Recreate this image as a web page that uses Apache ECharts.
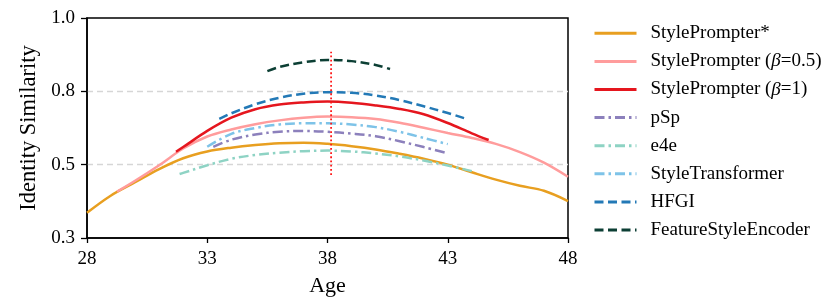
<!DOCTYPE html>
<html>
<head>
<meta charset="utf-8">
<script src="https://cdn.jsdelivr.net/npm/echarts@6/dist/echarts.min.js"></script>
<style>
html,body{margin:0;padding:0;background:#fff;}
#chart{width:831px;height:304px;}
</style>
</head>
<body>
<div id="chart"></div>
<script>
// ---- data ----
const xTicks = [28, 33, 38, 43, 48];
const yTickValues = [0.25, 0.5, 0.75, 1.0];
const yTickLabels = ['0.3', '0.5', '0.8', '1.0'];

const spStarAges = [28,29,30,31,32,33,34,35,36,37,38,39,40,41,42,43,44,45,46,47,48];
const spStarVals = [0.336,0.395,0.440,0.485,0.522,0.545,0.558,0.567,0.573,0.575,0.571,0.563,0.552,0.537,0.520,0.500,0.474,0.449,0.428,0.411,0.376];

const sp05Ages = [29.25,30,31,32,33,34,35,36,37,38,39,40,41,42,43,44,45,46,47,48];
const sp05Vals = [0.408,0.445,0.498,0.555,0.596,0.620,0.638,0.651,0.660,0.664,0.662,0.656,0.643,0.626,0.608,0.591,0.571,0.543,0.507,0.459];

const sp1Ages = [31.7,32,33,34,35,36,37,38,39,40,41,42,43,44,44.7];
const sp1Vals = [0.544,0.560,0.615,0.660,0.689,0.705,0.712,0.715,0.711,0.702,0.690,0.672,0.642,0.607,0.584];

const pspAges = [33.25,34,35,36,37,38,39,40,41,42,43];
const pspVals = [0.561,0.585,0.603,0.612,0.615,0.612,0.606,0.597,0.580,0.560,0.539];

const e4eAges = [31.85,32,33,34,35,36,37,38,39,40,41,42,43,44];
const e4eVals = [0.468,0.472,0.498,0.520,0.533,0.541,0.546,0.548,0.545,0.538,0.528,0.514,0.497,0.478];

const stAges = [33,34,35,36,37,38,39,40,41,42,43];
const stVals = [0.561,0.605,0.625,0.637,0.641,0.641,0.637,0.628,0.612,0.591,0.570];

const hfgiAges = [33.5,34,35,36,37,38,39,40,41,42,43,43.7];
const hfgiVals = [0.656,0.675,0.706,0.728,0.742,0.747,0.745,0.736,0.720,0.699,0.676,0.658];

const fseAges = [35.5,36,37,38,39,40,40.6];
const fseVals = [0.819,0.833,0.849,0.857,0.853,0.840,0.826];

const refAge = 38.15;
const refRange = [0.465, 0.885];

// ---- chart ----
const FONT = '"Liberation Serif", "DejaVu Serif", serif';
function pairs(xs, ys){ return xs.map((x,i)=>[x, ys[i]]); }

const seriesDefs = [
  {name:'StylePrompter*', ages:spStarAges, vals:spStarVals, color:'#E89F20', type:'solid'},
  {name:'StylePrompter (β=0.5)', ages:sp05Ages, vals:sp05Vals, color:'#FF9C9C', type:'solid'},
  {name:'StylePrompter (β=1)', ages:sp1Ages, vals:sp1Vals, color:'#E5161E', type:'solid'},
  {name:'pSp', ages:pspAges, vals:pspVals, color:'#8C80BC', type:[10,4,2.5,4]},
  {name:'e4e', ages:e4eAges, vals:e4eVals, color:'#8ED3C4', type:[10,4,2.5,4]},
  {name:'StyleTransformer', ages:stAges, vals:stVals, color:'#7EC3E8', type:[10,4,2.5,4]},
  {name:'HFGI', ages:hfgiAges, vals:hfgiVals, color:'#2379B6', type:[9,4.5]},
  {name:'FeatureStyleEncoder', ages:fseAges, vals:fseVals, color:'#0C3F34', type:[9,4.5]}
];

const series = seriesDefs.map(d => ({
  name: d.name,
  type: 'line',
  data: pairs(d.ages, d.vals),
  smooth: 0.35,
  symbol: 'none',
  color: d.color,
  lineStyle: {color: d.color, width: 2.5, type: d.type, cap: 'butt'},
  emphasis: {disabled: true},
  z: 3
}));

series.push({
  name: 'ref',
  type: 'line',
  data: [[refAge, refRange[0]], [refAge, refRange[1]]],
  symbol: 'none',
  lineStyle: {color: '#FF1A1A', width: 1.8, type: [1.8, 2.4]},
  silent: true,
  z: 4
});

const chart = echarts.init(document.getElementById('chart'), null, {renderer: 'canvas'});
chart.setOption({
  animation: false,
  backgroundColor: '#fff',
  grid: {left: 87, right: 263, top: 18, bottom: 66, show: true, borderColor: '#000', borderWidth: 1.5, backgroundColor: 'transparent'},
  xAxis: {
    type: 'value', min: 28, max: 48,
    name: 'Age', nameLocation: 'middle', nameGap: 37,
    nameTextStyle: {fontFamily: FONT, fontSize: 22, color: '#000'},
    axisLine: {show: true, lineStyle: {color: '#000', width: 1.5}},
    axisTick: {show: true, length: 5, lineStyle: {color: '#000', width: 1.3}, customValues: xTicks},
    axisLabel: {fontFamily: FONT, fontSize: 19, color: '#000', margin: 12, customValues: xTicks},
    splitLine: {show: false}
  },
  yAxis: {
    type: 'value', min: 0.25, max: 1.0, interval: 0.25,
    name: 'Identity Similarity', nameLocation: 'middle', nameGap: 44,
    nameTextStyle: {fontFamily: FONT, fontSize: 22.5, color: '#000'},
    axisLine: {show: true, lineStyle: {color: '#000', width: 1.5}},
    axisTick: {show: true, length: 6, lineStyle: {color: '#000', width: 1.3}},
    axisLabel: {fontFamily: FONT, fontSize: 19, color: '#000', margin: 12,
      formatter: v => { const i = yTickValues.findIndex(t => Math.abs(t - v) < 1e-6); return i >= 0 ? yTickLabels[i] : ''; }},
    splitLine: {show: true, lineStyle: {color: ['rgba(0,0,0,0)', '#d6d6d6', '#d6d6d6', 'rgba(0,0,0,0)'], width: 1.3, type: [6, 4]}}
  },
  legend: {
    orient: 'vertical', left: 593, top: 23.3, padding: 0,
    itemWidth: 42, itemHeight: 14, itemGap: 8.1,
    data: seriesDefs.map(d => d.name),
    formatter: n => n.replace('β', '{i|β}'),
    itemStyle: {opacity: 0},
    lineStyle: {width: 3},
    textStyle: {fontFamily: FONT, fontSize: 19, color: '#000', lineHeight: 20, padding: [0,0,0,9],
      rich: {i: {fontFamily: FONT, fontStyle: 'italic', fontSize: 19, color: '#000', lineHeight: 20}}},
    selectedMode: false
  },
  series: series
});
</script>
</body>
</html>
